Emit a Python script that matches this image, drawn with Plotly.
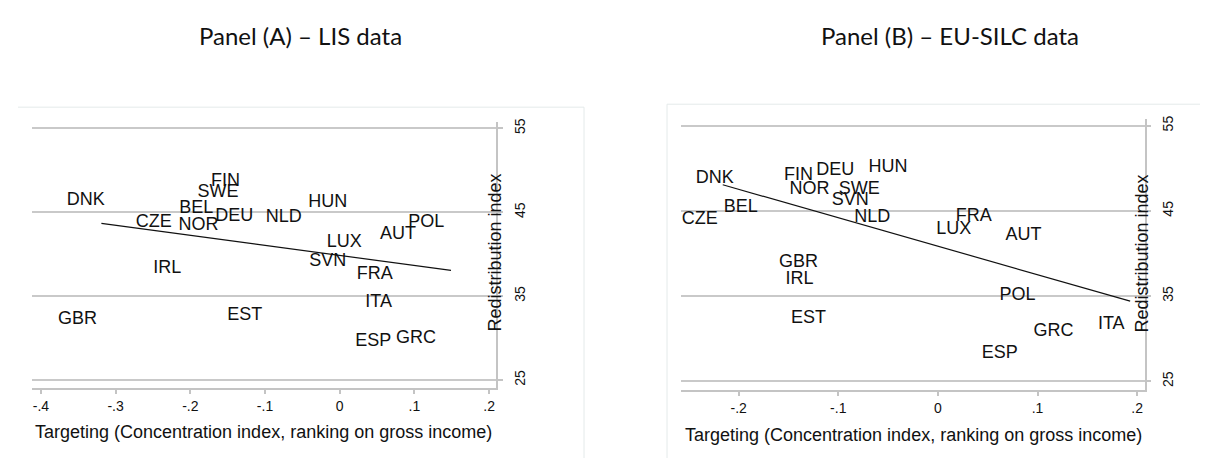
import plotly.graph_objects as go

W, H = 1208, 458

# ---------------- data ----------------
A_countries = ['DNK', 'FIN', 'SWE', 'BEL', 'CZE', 'NOR', 'DEU', 'NLD', 'HUN', 'POL',
               'AUT', 'LUX', 'SVN', 'FRA', 'IRL', 'ITA', 'GBR', 'EST', 'ESP', 'GRC']
A_targeting = [-0.340, -0.153, -0.163, -0.192, -0.249, -0.189, -0.141, -0.075, -0.016, 0.116,
               0.078, 0.006, -0.016, 0.047, -0.231, 0.052, -0.351, -0.127, 0.045, 0.102]
A_redistribution = [46.4, 48.7, 47.4, 45.4, 43.8, 43.4, 44.5, 44.4, 46.1, 43.8,
                    42.3, 41.4, 39.1, 37.6, 38.3, 34.3, 32.2, 32.7, 29.6, 29.9]
A_fit_x = [-0.319, 0.149]
A_fit_y = [43.67, 38.07]

B_countries = ['DNK', 'FIN', 'DEU', 'HUN', 'NOR', 'SWE', 'SVN', 'BEL', 'CZE', 'NLD',
               'FRA', 'LUX', 'AUT', 'GBR', 'IRL', 'POL', 'EST', 'ITA', 'GRC', 'ESP']
B_targeting = [-0.224, -0.140, -0.103, -0.050, -0.129, -0.079, -0.088, -0.198, -0.239, -0.066,
               0.036, 0.016, 0.086, -0.140, -0.139, 0.080, -0.130, 0.174, 0.116, 0.062]
B_redistribution = [48.85, 49.2, 49.8, 50.1, 47.5, 47.5, 46.2, 45.35, 44.05, 44.2,
                    44.3, 42.8, 42.1, 39.0, 37.0, 35.1, 32.4, 31.7, 30.8, 28.3]
B_fit_x = [-0.216, 0.193]
B_fit_y = [48.07, 34.42]

A_xticks = [-0.4, -0.3, -0.2, -0.1, 0, 0.1, 0.2]
A_xticktext = ['-.4', '-.3', '-.2', '-.1', '0', '.1', '.2']
B_xticks = [-0.2, -0.1, 0, 0.1, 0.2]
B_xticktext = ['-.2', '-.1', '0', '.1', '.2']
yticks = [25, 35, 45, 55]
yticktext = ['25', '35', '45', '55']

titles = ['Panel (A) \u2013 LIS data', 'Panel (B) \u2013 EU-SILC data']
xtitle = 'Targeting (Concentration index, ranking on gross income)'
ytitle = 'Redistribution index'

# ---------------- helpers ----------------
def px(x):
    return x / W

def py(y):
    return 1 - y / H

FONT = 'Liberation Sans, Arial, sans-serif'
GRID = '#c9c9c9'
AXIS = '#c4c4c4'

fig = go.Figure()

fig.add_trace(go.Scatter(x=A_targeting, y=A_redistribution, text=A_countries, mode='text',
                         textposition='middle center',
                         textfont=dict(family=FONT, size=18, color='#111111'),
                         xaxis='x', yaxis='y', showlegend=False, hoverinfo='skip'))
fig.add_trace(go.Scatter(x=A_fit_x, y=A_fit_y, mode='lines',
                         line=dict(color='#111111', width=1.2),
                         xaxis='x', yaxis='y', showlegend=False))
fig.add_trace(go.Scatter(x=B_targeting, y=B_redistribution, text=B_countries, mode='text',
                         textposition='middle center',
                         textfont=dict(family=FONT, size=18, color='#111111'),
                         xaxis='x2', yaxis='y2', showlegend=False, hoverinfo='skip'))
fig.add_trace(go.Scatter(x=B_fit_x, y=B_fit_y, mode='lines',
                         line=dict(color='#111111', width=1.2),
                         xaxis='x2', yaxis='y2', showlegend=False))

xcommon = dict(showline=True, linecolor=AXIS, linewidth=1.5, ticks='outside', ticklen=5,
               tickcolor=AXIS, tickwidth=1.5, showgrid=False, zeroline=False,
               tickfont=dict(family=FONT, size=14, color='#111111'))
ycommon = dict(side='right', showline=True, linecolor=AXIS, linewidth=1.5, ticks='outside',
               ticklen=5, tickcolor=AXIS, tickwidth=1.5, showgrid=True, gridcolor=GRID,
               gridwidth=1.5, zeroline=False, tickangle=-90, tickvals=yticks,
               ticktext=yticktext, ticklabelstandoff=5,
               tickfont=dict(family=FONT, size=14, color='#111111'))

fig.update_layout(
    width=W, height=H,
    margin=dict(l=0, r=0, t=0, b=0),
    paper_bgcolor='white', plot_bgcolor='white',
    showlegend=False,
    xaxis=dict(domain=[px(24), px(488)], range=[-0.4119, 0.2092], anchor='y',
               tickvals=A_xticks, ticktext=A_xticktext, **xcommon),
    yaxis=dict(domain=[py(379), py(111)], range=[24.09, 55.75], anchor='x', **ycommon),
    xaxis2=dict(domain=[px(672.7), px(1136.7)], range=[-0.2582, 0.2076], anchor='y2',
                tickvals=B_xticks, ticktext=B_xticktext, **xcommon),
    yaxis2=dict(domain=[py(381), py(108)], range=[24.03, 55.78], anchor='x2', **ycommon),
)

ann = []
ann.append(dict(text=titles[0], x=px(292), y=py(24), xref='paper', yref='paper',
                showarrow=False, xanchor='center', yanchor='middle',
                font=dict(family='Lato, Open Sans, sans-serif', size=24, color='#111111')))
ann.append(dict(text=titles[1], x=px(942), y=py(24), xref='paper', yref='paper',
                showarrow=False, xanchor='center', yanchor='middle',
                font=dict(family='Lato, Open Sans, sans-serif', size=24, color='#111111')))
ann.append(dict(text=xtitle, x=px(255.8), y=py(424), xref='paper', yref='paper',
                showarrow=False, xanchor='center', yanchor='middle',
                font=dict(family=FONT, size=18, color='#111111')))
ann.append(dict(text=xtitle, x=px(905.8), y=py(426.5), xref='paper', yref='paper',
                showarrow=False, xanchor='center', yanchor='middle',
                font=dict(family=FONT, size=18, color='#111111')))
ann.append(dict(text=ytitle, x=px(486.7), y=py(243), xref='paper', yref='paper',
                showarrow=False, xanchor='center', yanchor='middle', textangle=-90,
                font=dict(family=FONT, size=18, color='#111111')))
ann.append(dict(text=ytitle, x=px(1134.3), y=py(243.3), xref='paper', yref='paper',
                showarrow=False, xanchor='center', yanchor='middle', textangle=-90,
                font=dict(family=FONT, size=18, color='#111111')))
fig.update_layout(annotations=ann)

FRAME = '#e4eaea'
shapes = [
    dict(type='line', xref='paper', yref='paper', x0=px(10), x1=px(576), y0=py(96), y1=py(96),
         line=dict(color=FRAME, width=1)),
    dict(type='line', xref='paper', yref='paper', x0=px(576), x1=px(576), y0=py(96), y1=py(458),
         line=dict(color=FRAME, width=1)),
    dict(type='line', xref='paper', yref='paper', x0=px(659), x1=px(659), y0=py(93), y1=py(458),
         line=dict(color=FRAME, width=1)),
    dict(type='line', xref='paper', yref='paper', x0=px(659), x1=px(1208), y0=py(93), y1=py(93),
         line=dict(color=FRAME, width=1)),
]
fig.update_layout(shapes=shapes)

fig.write_html('out.html')
